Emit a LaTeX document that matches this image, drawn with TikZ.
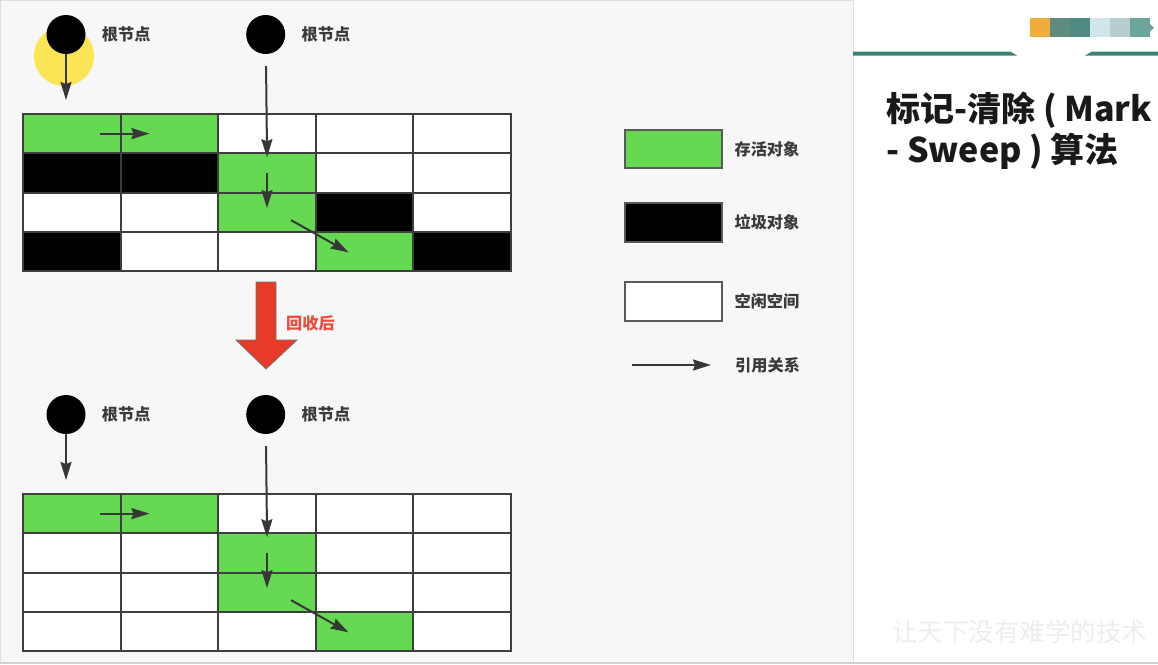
\documentclass[tikz,border=0pt]{standalone}
\usepackage{fontspec}
\newfontfamily\cjk{Noto Sans CJK SC}
\usetikzlibrary{arrows.meta, positioning, calc}
\definecolor{livegreen}{RGB}{102,217,82}
\definecolor{gridgray}{RGB}{62,62,62}
\definecolor{arrowgray}{RGB}{55,55,55}
\definecolor{labelgray}{RGB}{58,58,58}
\definecolor{recyclered}{RGB}{232,58,40}
\definecolor{panelgray}{RGB}{247,247,247}
\definecolor{slideteal}{RGB}{58,128,115}
\definecolor{decoorange}{RGB}{240,173,60}
\definecolor{decoa}{RGB}{95,139,127}
\definecolor{decob}{RGB}{79,138,130}
\definecolor{decoc}{RGB}{208,230,234}
\definecolor{decod}{RGB}{184,205,205}
\definecolor{decoe}{RGB}{110,165,155}
\tikzset{
	cell/.style={draw=gridgray, line width=2pt, minimum width=97.6pt, minimum height=39.25pt, inner sep=0pt, anchor=north west},
	cg/.style={fill=livegreen},
	cb/.style={fill=black},
	cw/.style={fill=white},
	root/.style={circle, fill=black, minimum size=39pt, inner sep=0pt},
	ref/.style={draw=arrowgray, line width=2pt, -{Stealth[length=18pt, width=11pt, inset=2pt]}}
}

\begin{document}
\begin{tikzpicture}[
	x=1pt, y=-1pt,
	legendbox/.style={draw=black!65, line width=2pt, minimum width=97.3pt, minimum height=38.5pt, inner sep=0pt},
	label_style/.style={font=\cjk\bfseries\fontsize{16.2}{18}\selectfont, text=labelgray, inner sep=0pt},
	title_style/.style={font=\cjk\bfseries\fontsize{34}{40}\selectfont, text=black!90, inner sep=0pt, anchor=west}
	]
	\useasboundingbox (0,0) rectangle (1158,664);
	
	% --- Slide background ---
	\fill[panelgray] (0,0) rectangle (853,664);
	\draw[black!13, line width=1pt] (0.5,0.5) rectangle (853,663);
	\draw[black!18, line width=1.5pt] (0,663) -- (1158,663);
	
	% --- Before collection: heap cells ---
	\foreach \row [count=\r from 0] in {{cg,cg,cw,cw,cw},{cb,cb,cg,cw,cw},{cw,cw,cg,cb,cw},{cb,cw,cw,cg,cb}}
		\foreach \kind [count=\c from 0] in \row
			\node[cell, \kind] (top-\r-\c) at ({22+97.6*\c},{113+39.25*\r}) {};
	
	% Roots of the top heap
	\fill[yellow!80!orange!90!white, opacity=0.75] (64,56) circle (30);
	\node[root] (top-root1) at (66,34.5) {};
	\node[label_style, right=16pt of top-root1] (top-label1) {根节点};
	\node[root] (top-root2) at (265.7,34.5) {};
	\node[label_style, right=16pt of top-root2] (top-label2) {根节点};
	
	% References
	\draw[ref, shorten >=13pt] (top-root1) -- (top-root1 |- top-0-0.north);
	\draw[ref, shorten <=12pt, shorten >=-5pt] (top-root2) -- (top-1-2.north);
	\draw[ref, shorten <=28pt, shorten >=20pt] (top-0-0.center) -- (top-0-1.center);
	\draw[ref, shorten >=4pt] (top-1-2.center) -- (top-2-2.center);
	\draw[ref] ($(top-2-2.center)+(24,8)$) -- ($(top-3-3.center)+(-16,1)$);
	
	% --- Collection step ---
	\fill[recyclered, draw=black!55, line width=0.8pt] (256,282) -- (276,282) -- (276,340) -- (297,340) -- (266,369) -- (236,340) -- (256,340) -- cycle;
	\node[label_style, text=recyclered!90!white, anchor=west] (recycled) at (286,323.3) {回收后};
	
	% --- After collection: heap cells ---
	\foreach \row [count=\r from 0] in {{cg,cg,cw,cw,cw},{cw,cw,cg,cw,cw},{cw,cw,cg,cw,cw},{cw,cw,cw,cg,cw}}
		\foreach \kind [count=\c from 0] in \row
			\node[cell, \kind] (bot-\r-\c) at ({22+97.6*\c},{493+39.25*\r}) {};
	
	% Roots of the bottom heap
	\node[root] (bot-root1) at (66,414.5) {};
	\node[label_style, right=16pt of bot-root1] (bot-label1) {根节点};
	\node[root] (bot-root2) at (265.7,414.5) {};
	\node[label_style, right=16pt of bot-root2] (bot-label2) {根节点};
	
	% References
	\draw[ref, shorten >=13pt] (bot-root1) -- (bot-root1 |- bot-0-0.north);
	\draw[ref, shorten <=12pt, shorten >=-5pt] (bot-root2) -- (bot-1-2.north);
	\draw[ref, shorten <=28pt, shorten >=20pt] (bot-0-0.center) -- (bot-0-1.center);
	\draw[ref, shorten >=4pt] (bot-1-2.center) -- (bot-2-2.center);
	\draw[ref] ($(bot-2-2.center)+(24,8)$) -- ($(bot-3-3.center)+(-16,1)$);
	
	% --- Legend ---
	\node[legendbox, fill=livegreen] (live) at (673.7,149.2) {};
	\node[label_style, right=11pt of live] (live-text) {存活对象};
	\node[legendbox, fill=black] (garbage) at (673.7,222.5) {};
	\node[label_style, right=11pt of garbage] (garbage-text) {垃圾对象};
	\node[legendbox, fill=white] (free) at (673.7,301.7) {};
	\node[label_style, right=11pt of free] (free-text) {空闲空间};
	\coordinate (ref-start) at (632,365);
	\coordinate (ref-end) at (711,365);
	\draw[ref] (ref-start) -- (ref-end);
	\node[label_style, right=24pt of ref-end] (ref-text) {引用关系};
	
	% --- Title panel ---
	\foreach \deco [count=\i from 0] in {decoorange,decoa,decob,decoc,decod,decoe}
		\fill[\deco] ({1030+20*\i},18.3) rectangle ++(20,19);
	\fill[decoe] (1150,24) -- (1154,27.8) -- (1150,31.5) -- cycle;
	\fill[slideteal] (853,51.5) -- (1010,51.5) -- (1017,55.5) -- (853,55.5) -- cycle;
	\fill[slideteal] (1092,51.5) -- (1158,51.5) -- (1158,55.5) -- (1085,55.5) -- cycle;
	\node[title_style] (title-a) at (886,110) {标记-清除 ( Mark};
	\node[title_style] (title-b) at (886,151.7) {- Sweep ) 算法};
	\node[font=\cjk\fontsize{25.5}{26}\selectfont, text=black!7, inner sep=0pt, anchor=west] (motto) at (892,631.7) {让天下没有难学的技术};
	
\end{tikzpicture}
\end{document}
